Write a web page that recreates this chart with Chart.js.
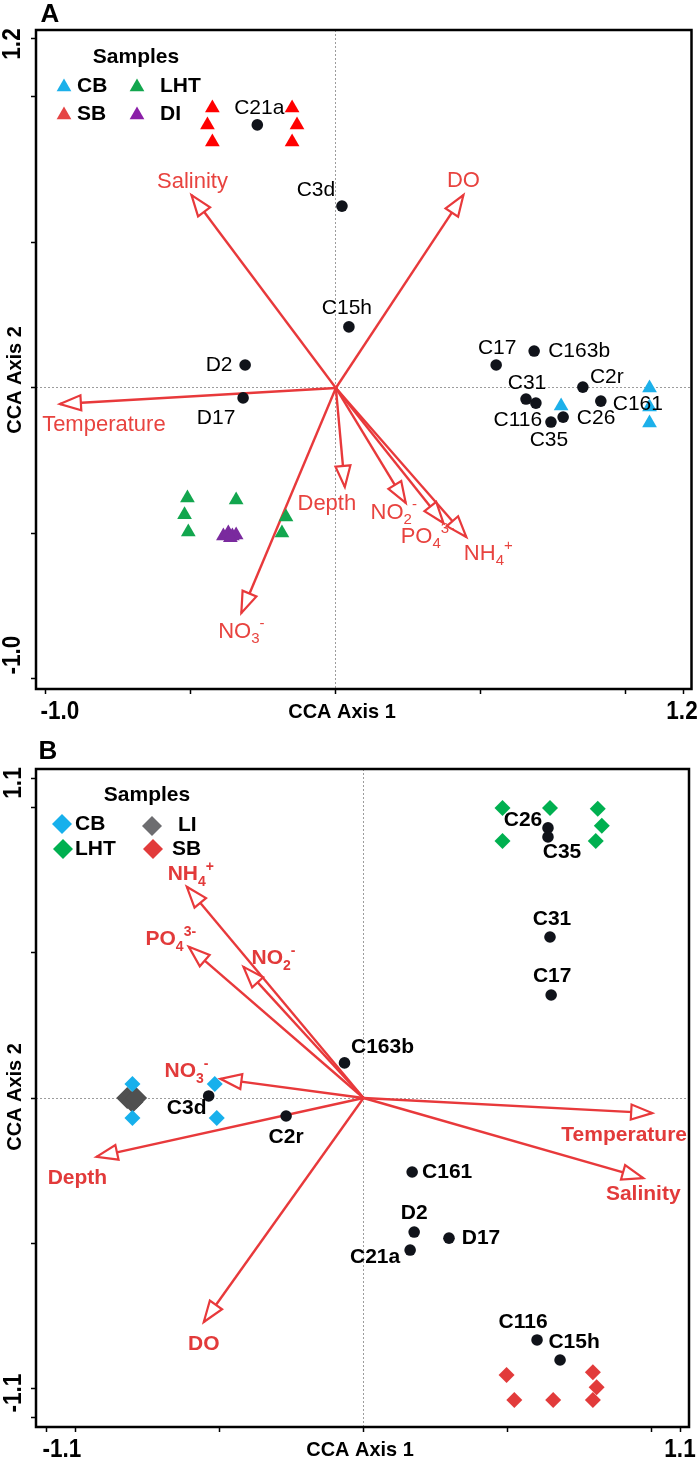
<!DOCTYPE html>
<html>
<head>
<meta charset="utf-8">
<script src="https://cdn.jsdelivr.net/npm/chart.js@4.4.1/dist/chart.umd.min.js"></script>
<style>
  html, body { margin: 0; padding: 0; background: #fff; }
  canvas { display: block; }
</style>
</head>
<body>
<canvas id="chartA" width="700" height="740"></canvas>
<canvas id="chartB" width="700" height="727"></canvas>
<script>
// ---- panel A data ----
const aSiteNames = ["C21a", "C3d", "C15h", "D2", "D17", "C17", "C163b", "C31", "C116", "C35", "C26", "C2r", "C161"];
const aSiteX = [-0.271, 0.021, 0.045, -0.313, -0.320, 0.553, 0.684, 0.656, 0.690, 0.742, 0.784, 0.852, 0.914];
const aSiteY = [0.904, 0.625, 0.210, 0.079, -0.034, 0.079, 0.127, -0.038, -0.052, -0.117, -0.100, 0.003, -0.045];

const aCbX = [0.777, 1.082, 1.082, 1.082];
const aCbY = [-0.062, 0.000, -0.065, -0.120];
const aSbX = [-0.426, -0.443, -0.426, -0.151, -0.134, -0.151];
const aSbY = [0.962, 0.904, 0.845, 0.962, 0.904, 0.845];
const aLhtX = [-0.512, -0.522, -0.509, -0.344, -0.172, -0.186];
const aLhtY = [-0.378, -0.436, -0.495, -0.385, -0.443, -0.498];
const aDiX = [-0.388, -0.371, -0.357, -0.344, -0.364];
const aDiY = [-0.509, -0.498, -0.509, -0.505, -0.515];

const aVarLabels = [["Temperature"], ["Salinity"], ["DO"], ["Depth"], ["NO", "2", "-"], ["PO", "4", "3-"], ["NH", "4", "+"], ["NO", "3", "-"]];
const aVarX = [-0.952, -0.498, 0.440, 0.031, 0.241, 0.371, 0.450, -0.326];
const aVarY = [-0.055, 0.663, 0.663, -0.340, -0.395, -0.464, -0.512, -0.773];

const aTicksX = [-1.0, -0.5, 0, 0.5, 1.0, 1.2];
const aTicksY = [-1.0, -0.5, 0, 0.5, 1.0, 1.2];
const aTickLabelsX = ["-1.0", "1.2"];
const aTickLabelsY = ["1.2", "-1.0"];
const aLegend = ["CB", "LHT", "SB", "DI"];

// ---- panel B data ----
const bSiteNames = ["C26", "C35", "C31", "C17", "C163b", "C3d", "C2r", "C161", "D2", "D17", "C21a", "C116", "C15h"];
const bSiteX = [0.641, 0.641, 0.648, 0.652, -0.066, -0.538, -0.269, 0.169, 0.176, 0.297, 0.162, 0.603, 0.683];
const bSiteY = [0.931, 0.900, 0.555, 0.355, 0.121, 0.007, -0.062, -0.255, -0.462, -0.483, -0.524, -0.834, -0.903];

const bCbX = [-0.803, -0.803, -0.517, -0.510];
const bCbY = [0.048, -0.069, 0.048, -0.069];
const bLiX = [-0.821, -0.803, -0.790];
const bLiY = [0.000, -0.014, 0.000];
const bLhtX = [0.483, 0.648, 0.814, 0.828, 0.807, 0.483];
const bLhtY = [1.000, 1.000, 0.997, 0.938, 0.886, 0.886];
const bSbX = [0.497, 0.524, 0.659, 0.797, 0.810, 0.797];
const bSbY = [-0.955, -1.041, -1.041, -0.945, -0.997, -1.041];

const bVarLabels = [["NH", "4", "+"], ["PO", "4", "3-"], ["NO", "2", "-"], ["NO", "3", "-"], ["Temperature"], ["Salinity"], ["Depth"], ["DO"]];
const bVarX = [-0.614, -0.607, -0.417, -0.497, 1.003, 0.972, -0.928, -0.555];
const bVarY = [0.728, 0.521, 0.452, 0.066, -0.052, -0.276, -0.203, -0.772];

const bTicksX = [-1.1, -1.0, -0.5, 0, 0.5, 1.0, 1.1];
const bTicksY = [-1.1, -1.0, -0.5, 0, 0.5, 1.0, 1.1];
const bTickLabelsX = ["-1.1", "1.1"];
const bTickLabelsY = ["1.1", "-1.1"];
const bLegend = ["CB", "LI", "LHT", "SB"];

// ---- styling ----
const FONT = '"Liberation Sans", Arial, sans-serif';
const RED = "#e8393b";
const DOT = "#10131a";

// label offsets in px (text centre relative to the point)
const aSiteOffsets = {
  C21a: [2, -17], C3d: [-26, -16], C15h: [-2, -19], D2: [-26, 0], D17: [-27, 20],
  C17: [1, -17], C163b: [45, 0], C31: [1, -16], C116: [-18, 17], C35: [-2, 18],
  C26: [33, 1], C2r: [24, -10], C161: [37, 3]
};
const aVarOffsets = [[44, 19], [1, -15], [0, -16], [-18, 15], [-12, 8], [-16, 12], [22, 15], [0, 17]];
const bSiteOffsets = {
  C26: [-25, -8], C35: [14, 15], C31: [2, -18], C17: [1, -19], C163b: [38, -16],
  C3d: [-22, 12], C2r: [0, 21], C161: [35, 0], D2: [0, -19], D17: [32, 0],
  C21a: [-35, 7], C116: [-14, -18], C15h: [14, -18]
};
const bVarOffsets = [[4, -14], [-18, -9], [30, -10], [-34, -9], [-28, 20], [0, 14], [-19, 20], [0, 20]];

function points(xs, ys) {
  return xs.map((x, i) => ({ x, y: ys[i] }));
}

function text(ctx, str, cx, cy, font, color, rot, sx) {
  ctx.save();
  ctx.font = font;
  ctx.fillStyle = color;
  ctx.textAlign = "center";
  ctx.textBaseline = "middle";
  ctx.translate(cx, cy);
  if (rot) ctx.rotate(rot);
  if (sx) ctx.scale(sx, 1);
  ctx.fillText(str, 0, 0);
  ctx.restore();
}

function chem(ctx, parts, cx, cy, size, bold, color) {
  const weight = bold ? "bold " : "";
  const big = `${weight}${size}px ${FONT}`;
  const small = `${weight}${Math.round(size * 0.68)}px ${FONT}`;
  ctx.save();
  ctx.fillStyle = color;
  ctx.textAlign = "left";
  ctx.textBaseline = "alphabetic";
  ctx.font = big;
  const w1 = ctx.measureText(parts[0]).width;
  ctx.font = small;
  const w2 = parts[1] ? ctx.measureText(parts[1]).width : 0;
  const w3 = parts[2] ? ctx.measureText(parts[2]).width : 0;
  const x0 = cx - (w1 + w2 + w3) / 2;
  const base = cy + size * 0.36;
  ctx.font = big;
  ctx.fillText(parts[0], x0, base);
  ctx.font = small;
  if (parts[1]) ctx.fillText(parts[1], x0 + w1, base + size * 0.25);
  if (parts[2]) ctx.fillText(parts[2], x0 + w1 + w2, base - size * 0.45);
  ctx.restore();
}

function arrowHead(ctx, ox, oy, tx, ty) {
  const len = Math.hypot(tx - ox, ty - oy);
  const ux = (tx - ox) / len, uy = (ty - oy) / len;
  const bx = tx - ux * 21, by = ty - uy * 21;
  ctx.save();
  ctx.beginPath();
  ctx.moveTo(tx, ty);
  ctx.lineTo(bx - uy * 7.5, by + ux * 7.5);
  ctx.lineTo(bx + uy * 7.5, by - ux * 7.5);
  ctx.closePath();
  ctx.fillStyle = "#fff";
  ctx.fill();
  ctx.lineWidth = 2.2;
  ctx.strokeStyle = RED;
  ctx.stroke();
  ctx.restore();
}

function axis(min, max, ticks, isX, size) {
  return {
    type: "linear",
    min, max,
    afterBuildTicks: (scale) => { scale.ticks = ticks.map((value) => ({ value })); },
    afterFit: (scale) => { if (isX) scale.height = size; else scale.width = size; },
    ticks: { display: false },
    grid: {
      color: (c) => (c.tick && c.tick.value === 0 ? "#9c9c9c" : "rgba(0,0,0,0)"),
      lineWidth: 1,
      drawTicks: true,
      tickLength: 5,
      tickColor: "#000",
      tickWidth: 1.5
    },
    border: { display: false, dash: [2, 2] }
  };
}

function makePanel(canvasId, spec) {
  const arrowSets = spec.varX.map((vx, i) => ({
    data: [{ x: 0, y: 0 }, { x: vx, y: spec.varY[i] }],
    showLine: true,
    borderColor: RED,
    borderWidth: 2.4,
    pointRadius: 0,
    order: 5,
    isArrow: true
  }));
  const groupSets = spec.groups.map((g) => ({
    data: points(g.x, g.y),
    pointStyle: g.style,
    pointRadius: g.radius,
    backgroundColor: g.color,
    borderWidth: 0,
    order: 2
  }));
  const siteSet = {
    data: points(spec.siteX, spec.siteY),
    pointStyle: "circle",
    pointRadius: 5.8,
    backgroundColor: DOT,
    borderWidth: 0,
    order: 1
  };

  const decor = {
    id: "decor" + spec.letter,
    afterDatasetDraw(chart, args) {
      const ds = chart.data.datasets[args.index];
      if (!ds.isArrow) return;
      const { x, y } = chart.scales;
      const p = ds.data[1];
      arrowHead(chart.ctx, x.getPixelForValue(0), y.getPixelForValue(0), x.getPixelForValue(p.x), y.getPixelForValue(p.y));
    },
    afterDraw(chart) {
      const { ctx, chartArea: a, scales: { x, y } } = chart;
      // frame
      ctx.save();
      ctx.lineWidth = 2.5;
      ctx.strokeStyle = "#000";
      ctx.strokeRect(a.left, a.top, a.right - a.left, a.bottom - a.top);
      ctx.restore();

      // sample labels
      spec.siteNames.forEach((name, i) => {
        const off = spec.siteOffsets[name];
        text(ctx, name, x.getPixelForValue(spec.siteX[i]) + off[0], y.getPixelForValue(spec.siteY[i]) + off[1],
          `${spec.siteBold ? "bold " : ""}21px ${FONT}`, "#000");
      });
      // variable labels
      spec.varLabels.forEach((parts, i) => {
        const off = spec.varOffsets[i];
        chem(ctx, parts, x.getPixelForValue(spec.varX[i]) + off[0], y.getPixelForValue(spec.varY[i]) + off[1],
          spec.varSize, spec.varBold, spec.varColor);
      });

      // panel letter, axis titles, tick labels
      const L = spec.layout;
      text(ctx, spec.letter, L.letter[0], L.letter[1], `bold 26px ${FONT}`, "#000");
      text(ctx, "CCA Axis 1", L.xTitle[0], L.xTitle[1], `bold 21px ${FONT}`, "#000", 0, 0.95);
      text(ctx, "CCA Axis 2", L.yTitle[0], L.yTitle[1], `bold 21px ${FONT}`, "#000", -Math.PI / 2, 0.95);
      const tf = `bold 25px ${FONT}`;
      text(ctx, spec.tickLabelsX[0], L.xTickL[0], L.xTickL[1], tf, "#000", 0, 0.9);
      text(ctx, spec.tickLabelsX[1], L.xTickR[0], L.xTickR[1], tf, "#000", 0, 0.9);
      text(ctx, spec.tickLabelsY[0], L.yTickT[0], L.yTickT[1], tf, "#000", -Math.PI / 2, 0.9);
      text(ctx, spec.tickLabelsY[1], L.yTickB[0], L.yTickB[1], tf, "#000", -Math.PI / 2, 0.9);

      // legend
      text(ctx, "Samples", L.samples[0], L.samples[1], `bold 21px ${FONT}`, "#000");
      spec.legend.forEach((name, i) => {
        const item = L.legendItems[i];
        ctx.save();
        ctx.fillStyle = spec.legendColors[i];
        Chart.helpers.drawPoint(ctx, { pointStyle: spec.legendStyle, radius: spec.legendRadius, rotation: 0, borderWidth: 0 }, item[0], item[1]);
        ctx.restore();
        ctx.save();
        ctx.font = `bold 21px ${FONT}`;
        ctx.fillStyle = "#000";
        ctx.textAlign = "left";
        ctx.textBaseline = "middle";
        ctx.fillText(name, item[2], item[3]);
        ctx.restore();
      });
    }
  };

  return new Chart(document.getElementById(canvasId), {
    type: "scatter",
    data: { datasets: [siteSet, ...groupSets, ...arrowSets] },
    options: {
      responsive: false,
      animation: false,
      devicePixelRatio: 1,
      layout: { padding: spec.padding },
      plugins: { legend: { display: false }, tooltip: { enabled: false } },
      scales: {
        x: axis(spec.xMin, spec.xMax, spec.ticksX, true, spec.xAxisSize),
        y: axis(spec.yMin, spec.yMax, spec.ticksY, false, 36)
      }
    },
    plugins: [decor]
  });
}

makePanel("chartA", {
  letter: "A",
  siteNames: aSiteNames, siteX: aSiteX, siteY: aSiteY, siteOffsets: aSiteOffsets, siteBold: false,
  varLabels: aVarLabels, varX: aVarX, varY: aVarY, varOffsets: aVarOffsets,
  varSize: 22, varBold: false, varColor: "#e8433f",
  groups: [
    { x: aCbX, y: aCbY, color: "#1cb0ea", style: "triangle", radius: 8.5 },
    { x: aSbX, y: aSbY, color: "#ff0000", style: "triangle", radius: 8.5 },
    { x: aLhtX, y: aLhtY, color: "#12a64e", style: "triangle", radius: 8.5 },
    { x: aDiX, y: aDiY, color: "#7a2a9e", style: "triangle", radius: 8.5 }
  ],
  legend: aLegend,
  legendColors: ["#1cb0ea", "#12a64e", "#e54545", "#8b1fa8"],
  legendStyle: "triangle", legendRadius: 8.5,
  tickLabelsX: aTickLabelsX, tickLabelsY: aTickLabelsY,
  ticksX: aTicksX, ticksY: aTicksY,
  xMin: -1.0344, xMax: 1.2268, yMin: -1.0344, yMax: 1.2302,
  padding: { top: 30, right: 6, left: 0, bottom: 0 }, xAxisSize: 51,
  layout: {
    letter: [50, 15], xTitle: [342, 712], yTitle: [15, 380],
    xTickL: [60, 712], xTickR: [682, 712], yTickT: [13, 44], yTickB: [13, 655],
    samples: [136, 57],
    legendItems: [[64, 87, 77, 86], [137, 87, 160, 86], [64, 115, 77, 114], [137, 115, 160, 114]]
  }
});

makePanel("chartB", {
  letter: "B",
  siteNames: bSiteNames, siteX: bSiteX, siteY: bSiteY, siteOffsets: bSiteOffsets, siteBold: true,
  varLabels: bVarLabels, varX: bVarX, varY: bVarY, varOffsets: bVarOffsets,
  varSize: 21, varBold: true, varColor: "#e23a3a",
  groups: [
    { x: bCbX, y: bCbY, color: "#17b0ec", style: "rectRot", radius: 8 },
    { x: bLiX, y: bLiY, color: "#505050", style: "rectRot", radius: 11 },
    { x: bLhtX, y: bLhtY, color: "#00b050", style: "rectRot", radius: 8 },
    { x: bSbX, y: bSbY, color: "#e23b3b", style: "rectRot", radius: 8 }
  ],
  legend: bLegend,
  legendColors: ["#17b0ec", "#6d6d70", "#00b050", "#e23b3b"],
  legendStyle: "rectRot", legendRadius: 10,
  tickLabelsX: bTickLabelsX, tickLabelsY: bTickLabelsY,
  ticksX: bTicksX, ticksY: bTicksY,
  xMin: -1.138, xMax: 1.131, yMin: -1.134, yMax: 1.134,
  padding: { top: 29, right: 6, left: 0, bottom: 0 }, xAxisSize: 40,
  layout: {
    letter: [48, 12], xTitle: [360, 710], yTitle: [15, 357],
    xTickL: [62, 710], xTickR: [680, 710], yTickT: [14, 43], yTickB: [14, 653],
    samples: [147, 55],
    legendItems: [[62, 84, 75, 84], [152, 86, 178, 85], [63, 109, 75, 109], [153, 109, 172, 109]]
  }
});
</script>
</body>
</html>
